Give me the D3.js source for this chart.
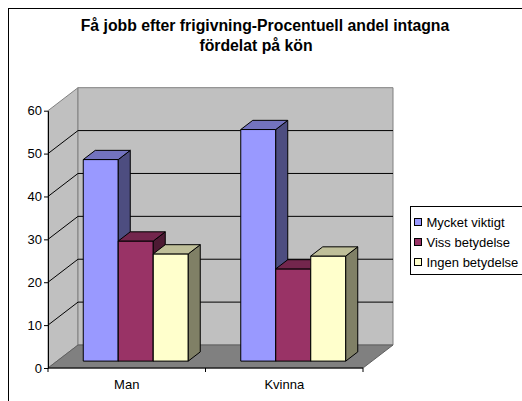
<!DOCTYPE html>
<html lang="en">

<head>
    <meta charset="utf-8">
    <script src='https://d3js.org/d3.v7.min.js'></script>
    <style>
        body { margin: 0; background: #fff; }
        text { font-family: "Liberation Sans", Arial, sans-serif; }
    </style>
</head>

<body>
</body>

<script>

    // chart data
    const categories = ["Man", "Kvinna"];
    const seriesNames = ["Mycket viktigt", "Viss betydelse", "Ingen betydelse"];
    const mycketViktigt = [47, 54];
    const vissBetydelse = [28, 21.5];
    const ingenBetydelse = [25, 24.5];
    const yTicks = [0, 10, 20, 30, 40, 50, 60];
    const titleLines = ["Få jobb efter frigivning-Procentuell andel intagna", "fördelat på kön"];

    const seriesValues = [mycketViktigt, vissBetydelse, ingenBetydelse];
    const fronts = ["#9999FF", "#993366", "#FFFFCC"];

    const width = 522;
    const height = 401;

    // depth of the 3d box
    const DX = 30, DY = -23;

    var svg = d3.select("body")
                .append("svg")
                .attr("width", width)
                .attr("height", height);

    // chart area border (runs off the picture on the right and bottom)
    svg.append("rect")
        .attr("x", 8.5).attr("y", 8.5)
        .attr("width", 600).attr("height", 500)
        .attr("fill", "white")
        .attr("stroke", "black");

    // title
    svg.selectAll(".title")
        .data(titleLines)
        .enter()
        .append("text")
        .attr("x", function (d, i) { return i == 0 ? 265 : 256; })
        .attr("y", function (d, i) { return 31 + i * 20; })
        .attr("text-anchor", "middle")
        .style("font-size", "15.8px")
        .style("font-weight", "bold")
        .text(function (d) { return d; });

    var x = d3.scaleBand()
                .domain(categories)
                .range([48, 363]);

    var xs = d3.scaleBand()
                .domain(seriesNames)
                .range([0, x.bandwidth()])
                .paddingOuter(0.75);

    var y = d3.scaleLinear()
                .domain([0, 60])
                .range([368, 110.7]);

    const x0 = x.range()[0], x1 = x.range()[1];
    const yTop = y(60), yBot = y(0);

    function pt(px, py, d) {
        return [px + d * DX, py + d * DY];
    }
    function poly(points) {
        return points.map(function (p) { return p[0] + "," + p[1]; }).join(" ");
    }

    // left wall
    svg.append("polygon")
        .attr("points", poly([[x0, yTop], pt(x0, yTop, 1), pt(x0, yBot, 1), [x0, yBot]]))
        .attr("fill", "#C0C0C0")
        .attr("stroke", "#808080");

    // back wall
    svg.append("polygon")
        .attr("points", poly([pt(x0, yTop, 1), pt(x1, yTop, 1), pt(x1, yBot, 1), pt(x0, yBot, 1)]))
        .attr("fill", "#C0C0C0")
        .attr("stroke", "#808080");

    // floor
    svg.append("polygon")
        .attr("points", poly([[x0, yBot], [x1, yBot], pt(x1, yBot, 1), pt(x0, yBot, 1)]))
        .attr("fill", "#808080")
        .attr("stroke", "#606060");

    // gridlines on the walls
    var grid = yTicks.filter(function (t) { return t > 0 && t < 60; });
    var gg = svg.append("g").attr("stroke", "black").attr("fill", "none");
    grid.forEach(function (t) {
        var a = [x0, y(t)], b = pt(x0, y(t), 1), c = pt(x1, y(t), 1);
        gg.append("polyline").attr("points", poly([a, b, c]));
    });

    // y axis
    var yAxis = d3.axisLeft(y)
                    .tickValues(yTicks)
                    .tickSize(4)
                    .tickSizeOuter(0)
                    .tickPadding(2);
    var ya = svg.append("g")
                .attr("transform", "translate(" + x0 + ",0)")
                .call(yAxis);
    ya.selectAll("text").style("font-size", "13px").attr("fill", "black")
        .style("font-family", '"Liberation Sans", Arial, sans-serif');
    ya.selectAll("line, path").attr("stroke", "black");

    // bars
    const dFront = 0.3, dBack = 0.7;
    categories.forEach(function (cat, ci) {
        seriesNames.forEach(function (s, si) {
            var v = seriesValues[si][ci];
            var bx0 = x(cat) + xs(s), bx1 = bx0 + xs.bandwidth();
            var front = fronts[si];
            var c = d3.rgb(front);
            var topCol = d3.rgb(c.r * 0.75, c.g * 0.75, c.b * 0.75).toString();
            var sideCol = d3.rgb(c.r * 0.5, c.g * 0.5, c.b * 0.5).toString();
            var g = svg.append("g").attr("stroke", "black").attr("stroke-width", 1);
            g.append("polygon")
                .attr("points", poly([pt(bx0, y(v), dFront), pt(bx1, y(v), dFront), pt(bx1, y(0), dFront), pt(bx0, y(0), dFront)]))
                .attr("fill", front);
            g.append("polygon")
                .attr("points", poly([pt(bx1, y(v), dFront), pt(bx1, y(v), dBack), pt(bx1, y(0), dBack), pt(bx1, y(0), dFront)]))
                .attr("fill", sideCol);
            g.append("polygon")
                .attr("points", poly([pt(bx0, y(v), dFront), pt(bx1, y(v), dFront), pt(bx1, y(v), dBack), pt(bx0, y(v), dBack)]))
                .attr("fill", topCol);
        });
    });

    // category axis
    var xa = svg.append("g").attr("stroke", "black");
    xa.append("line").attr("x1", x0).attr("x2", x1).attr("y1", yBot).attr("y2", yBot);
    var bounds = categories.map(function (c) { return x(c); }).concat([x1]);
    xa.selectAll(".ctick")
        .data(bounds)
        .enter()
        .append("line")
        .attr("x1", function (d) { return d; })
        .attr("x2", function (d) { return d; })
        .attr("y1", yBot)
        .attr("y2", yBot + 4);
    svg.selectAll(".clabel")
        .data(categories)
        .enter()
        .append("text")
        .attr("x", function (d) { return x(d) + x.bandwidth() / 2; })
        .attr("y", 389)
        .attr("text-anchor", "middle")
        .style("font-size", "13px")
        .text(function (d) { return d; });

    // legend
    var legend = svg.append("g").attr("transform", "translate(410.5,206.5)");
    legend.append("rect")
        .attr("width", 130).attr("height", 68)
        .attr("fill", "white").attr("stroke", "black");
    var li = legend.selectAll(".li")
                .data(seriesNames)
                .enter()
                .append("g")
                .attr("transform", function (d, i) { return "translate(0," + (15.5 + i * 20) + ")"; });
    li.append("rect")
        .attr("x", 4).attr("y", -3.5)
        .attr("width", 7).attr("height", 7)
        .attr("fill", function (d, i) { return fronts[i]; })
        .attr("stroke", "black");
    li.append("text")
        .attr("x", 16)
        .attr("y", 4.5)
        .style("font-size", "13px")
        .text(function (d) { return d; });

</script>

</html>
